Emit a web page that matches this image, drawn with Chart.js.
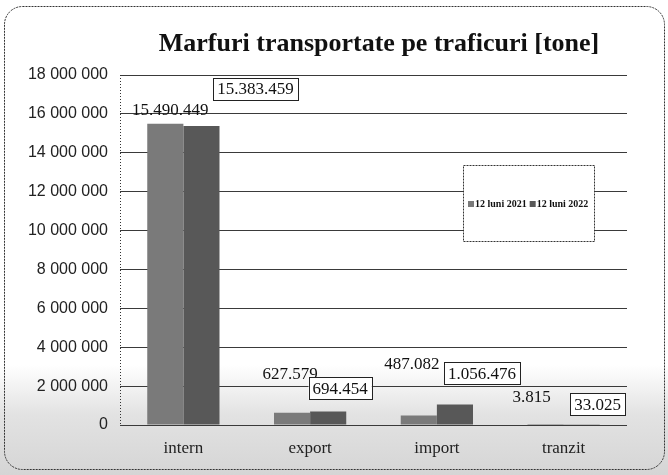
<!DOCTYPE html>
<html>
<head>
<meta charset="utf-8">
<script src="https://cdn.jsdelivr.net/npm/chart.js@4/dist/chart.umd.min.js"></script>
<style>
  html, body { margin: 0; padding: 0; background: #fff; }
  #wrap { width: 668px; height: 475px; }
</style>
</head>
<body>
<div id="wrap"><canvas id="traficChart" width="668" height="475"></canvas></div>
<script>
// Marfuri transportate pe traficuri [tone]
const categories = ['intern', 'export', 'import', 'tranzit'];
const seriesNames = ['12 luni 2021', '12 luni 2022'];
const values2021 = [15490449, 627579, 487082, 3815];
const values2022 = [15383459, 694454, 1056476, 33025];
const yMax = 18000000;
const yStep = 2000000;

const colors = ['#7a7a7a', '#585858'];

function dotted(n) {
    return n.toString().replace(/\B(?=(\d{3})+(?!\d))/g, '.');
}
function spaced(n) {
    return n.toString().replace(/\B(?=(\d{3})+(?!\d))/g, ' ');
}

// paper background, stippled bottom, rounded frame, dotted y axis
const framePlugin = {
    id: 'frame',
    beforeDraw(chart) {
        const ctx = chart.ctx;
        ctx.save();
        ctx.fillStyle = '#ffffff';
        ctx.fillRect(0, 0, chart.width, chart.height);
        const g = ctx.createLinearGradient(0, 365, 0, 475);
        g.addColorStop(0, 'rgba(160,160,160,0)');
        g.addColorStop(0.45, 'rgba(160,160,160,0.3)');
        g.addColorStop(1, 'rgba(150,150,150,0.4)');
        ctx.fillStyle = g;
        ctx.fillRect(0, 365, chart.width, 110);
        ctx.beginPath();
        ctx.roundRect(4.5, 6.5, 660, 463, 18);
        ctx.setLineDash([2, 1]);
        ctx.strokeStyle = '#333';
        ctx.lineWidth = 1;
        ctx.stroke();
        ctx.restore();
    },
    beforeDatasetsDraw(chart) {
        const ctx = chart.ctx;
        const a = chart.chartArea;
        ctx.save();
        ctx.setLineDash([1, 2]);
        ctx.strokeStyle = '#333';
        ctx.lineWidth = 1;
        ctx.beginPath();
        ctx.moveTo(a.left + 0.5, a.top);
        ctx.lineTo(a.left + 0.5, a.bottom);
        ctx.stroke();
        ctx.restore();
    },
    afterDraw(chart) {
        const ctx = chart.ctx;
        ctx.save();
        // title
        ctx.fillStyle = '#111';
        ctx.font = 'bold 26px "Liberation Serif", "Times New Roman", serif';
        ctx.textAlign = 'center';
        ctx.textBaseline = 'alphabetic';
        ctx.fillText('Marfuri transportate pe traficuri [tone]', 379, 51);

        // legend box
        const lx = 463, ly = 165, lw = 131, lh = 76;
        ctx.fillStyle = '#fff';
        ctx.fillRect(lx, ly, lw, lh);
        ctx.setLineDash([2, 1]);
        ctx.strokeStyle = '#333';
        ctx.strokeRect(lx + 0.5, ly + 0.5, lw, lh);
        ctx.setLineDash([]);
        ctx.font = 'bold 10px "Liberation Serif", serif';
        ctx.textAlign = 'left';
        ctx.textBaseline = 'middle';
        let x = lx + 5;
        const y = ly + lh / 2 + 1;
        chart.data.datasets.forEach((ds) => {
            ctx.fillStyle = ds.backgroundColor;
            ctx.fillRect(x, y - 3, 6, 6);
            x += 7;
            ctx.fillStyle = '#111';
            ctx.fillText(ds.label, x, y);
            x += ctx.measureText(ds.label).width + 3;
        });
        ctx.restore();
    }
};

// value labels: plain for 2021, boxed for 2022
const valueLabels = {
    id: 'valueLabels',
    afterDatasetsDraw(chart, args, opts) {
        const ctx = chart.ctx;
        ctx.save();
        ctx.font = '17px "Liberation Serif", "Times New Roman", serif';
        ctx.textAlign = 'center';
        ctx.textBaseline = 'middle';
        chart.data.datasets.forEach((ds, i) => {
            const meta = chart.getDatasetMeta(i);
            const off = opts.offsets[i];
            meta.data.forEach((bar, j) => {
                const txt = dotted(ds.data[j]);
                const cx = bar.x + off[j][0];
                const cy = bar.y + off[j][1];
                if (opts.boxed[i]) {
                    const w = ctx.measureText(txt).width + 8;
                    const h = 22;
                    ctx.fillStyle = '#fff';
                    ctx.fillRect(cx - w / 2, cy - h / 2, w, h);
                    ctx.strokeStyle = '#222';
                    ctx.lineWidth = 1;
                    ctx.strokeRect(Math.round(cx - w / 2) + 0.5, Math.round(cy - h / 2) + 0.5, Math.round(w), h);
                }
                ctx.fillStyle = '#111';
                ctx.fillText(txt, cx, cy + 1);
            });
        });
        ctx.restore();
    }
};

const ctx = document.getElementById('traficChart').getContext('2d');
new Chart(ctx, {
    type: 'bar',
    data: {
        labels: categories,
        datasets: [
            { label: seriesNames[0], data: values2021, backgroundColor: colors[0] },
            { label: seriesNames[1], data: values2022, backgroundColor: colors[1] }
        ]
    },
    options: {
        responsive: false,
        animation: false,
        layout: { padding: { left: 0, right: 41, top: 75, bottom: 0 } },
        datasets: {
            bar: { categoryPercentage: 0.57, barPercentage: 1.0, borderWidth: 0 }
        },
        plugins: {
            legend: { display: false },
            title: { display: false },
            tooltip: { enabled: false },
            valueLabels: {
                boxed: [false, true],
                offsets: [
                    [[5, -14], [-2, -39], [-7, -52], [-14, -28]],
                    [[54, -37], [12, -23], [27, -31], [16, -20]]
                ]
            }
        },
        scales: {
            x: {
                afterFit(scale) { scale.height = 50; },
                grid: { display: false },
                border: { display: false },
                ticks: {
                    color: '#222',
                    padding: 5,
                    font: { family: '"Liberation Serif", "Times New Roman", serif', size: 17 }
                }
            },
            y: {
                min: 0,
                max: yMax,
                afterFit(scale) { scale.width = 120; },
                grid: { color: '#3a3a3a', lineWidth: 1, drawTicks: false },
                border: { display: false },
                ticks: {
                    stepSize: yStep,
                    color: '#222',
                    padding: 12,
                    font: { family: '"Liberation Sans", Arial, sans-serif', size: 16 },
                    callback: v => spaced(v)
                }
            }
        }
    },
    plugins: [framePlugin, valueLabels]
});
</script>
</body>
</html>
